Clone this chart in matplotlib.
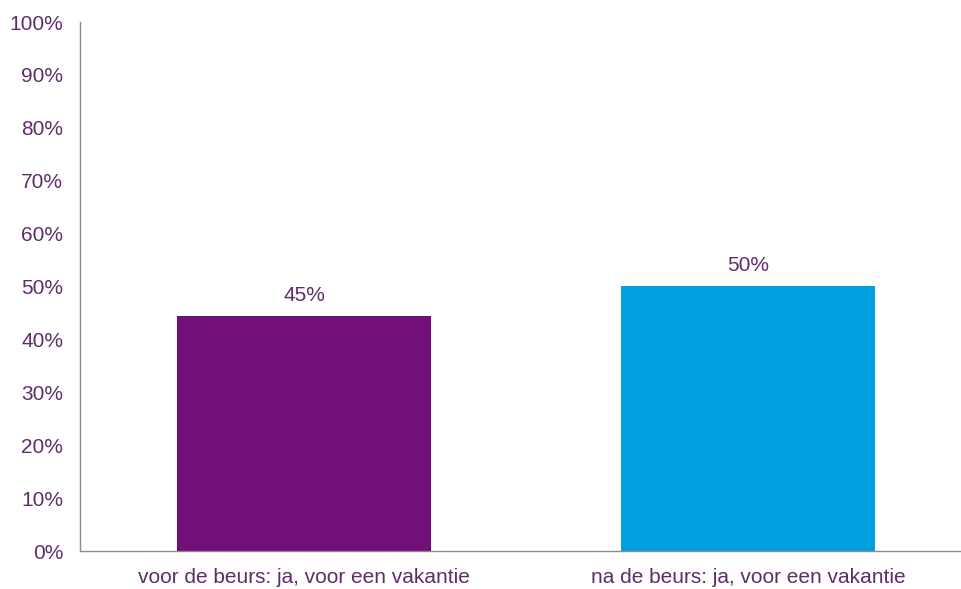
import matplotlib.pyplot as plt
from matplotlib.ticker import FixedLocator

categories = ["voor de beurs: ja, voor een vakantie", "na de beurs: ja, voor een vakantie"]
values = [44.5, 50.1]
labels = ["45%", "50%"]
colors = ["#701078", "#009FE0"]
yticks = list(range(0, 101, 10))

text_color = "#5E2D6A"
plt.rcParams['font.family'] = ['Liberation Sans', 'DejaVu Sans']

fig = plt.figure(figsize=(9.61, 5.89), dpi=100)
ax = fig.add_axes([0.0832, 0.0645, 0.9168, 0.8981])

x = range(len(categories))
bars = ax.bar(x, values, width=0.572, color=colors)

for b, lab in zip(bars, labels):
    ax.annotate(lab, (b.get_x() + b.get_width() / 2, b.get_height()),
                xytext=(0, 8), textcoords="offset points",
                ha="center", va="bottom", fontsize=15, color=text_color)

ax.set_xlim(-0.505, 1.48)
ax.set_ylim(0, 100)
ax.yaxis.set_major_locator(FixedLocator(yticks))
ax.set_yticklabels([f"{t}%" for t in yticks])
ax.set_xticks(list(x))
ax.set_xticklabels(categories)
ax.tick_params(axis="both", length=0, labelsize=15, labelcolor=text_color)
ax.tick_params(axis="y", pad=12)
ax.tick_params(axis="x", pad=12)

for s in ["top", "right"]:
    ax.spines[s].set_visible(False)
for s in ["left", "bottom"]:
    ax.spines[s].set_color("#8C8C8C")
    ax.spines[s].set_linewidth(1.0)

fig.savefig("out.png", dpi=100)
